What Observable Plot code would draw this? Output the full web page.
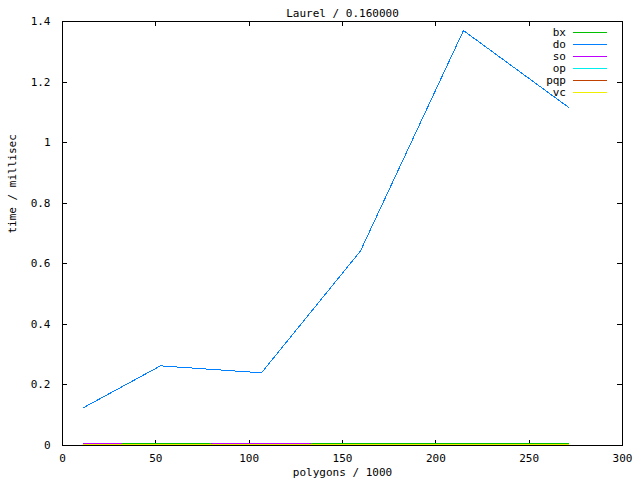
<!DOCTYPE html>
<html>
<head>
<meta charset="utf-8">
<script src="https://cdn.jsdelivr.net/npm/d3@7"></script>
<script src="https://cdn.jsdelivr.net/npm/@observablehq/plot@0.6"></script>
<style>
  body { margin: 0; background: #fff; }
</style>
</head>
<body>
<div id="wrap"></div>
<script>
const title = "Laurel / 0.160000";
const xLabel = "polygons / 1000";
const yLabel = "time / millisec";
const polygons = [11.25, 52.5, 106.6, 159.6, 214.8, 271];
const seriesNames = ["bx", "do", "so", "op", "pqp", "vc"];
const seriesColors = ["#00c000", "#0080ff", "#c000ff", "#00eeee", "#c04000", "#eeee00"];
const bx  = [0.0066, 0.0066, 0.0066, 0.0066, 0.0066, 0.0066];
const dO  = [0.125, 0.263, 0.240, 0.642, 1.370, 1.117];
const so  = [0.0066, 0.0033, 0.0066, 0.0033, 0.0033, 0.0033];
const op  = [0.0033, 0.0033, 0.0033, 0.0033, 0.0033, 0.0033];
const pqp = [0.0033, 0.0033, 0.0033, 0.0033, 0.0033, 0.0033];
const vc  = [0.0033, 0.0033, 0.0033, 0.0033, 0.0033, 0.0033];
const xTicks = [0, 50, 100, 150, 200, 250, 300];
const yTicks = [0, 0.2, 0.4, 0.6, 0.8, 1, 1.2, 1.4];

const values = [bx, dO, so, op, pqp, vc];
const rows = [];
seriesNames.forEach((s, i) => polygons.forEach((p, j) => rows.push({series: s, x: p, y: values[i][j]})));

const font = '"DejaVu Sans Mono", monospace';
const chart = Plot.plot({
  width: 640, height: 480,
  marginLeft: 62, marginRight: 18, marginTop: 21, marginBottom: 35,
  style: {fontFamily: font, fontSize: "11px", color: "#000", background: "#fff"},
  x: {domain: [0, 300], ticks: xTicks, label: null},
  y: {domain: [0, 1.4], ticks: yTicks, label: null, tickFormat: d => String(+d.toFixed(1))},
  color: {domain: seriesNames, range: seriesColors},
  marks: [
    Plot.axisX(xTicks, {tickSize: 0, tickPadding: 9, fontSize: 11}),
    Plot.axisY(yTicks, {tickSize: 0, tickPadding: 12, fontSize: 11, tickFormat: d => String(+d.toFixed(1))}),
    Plot.ruleX(xTicks.slice(1, -1), {insetTop: 419, stroke: "#000", shapeRendering: "crispEdges"}),
    Plot.ruleX(xTicks.slice(1, -1), {insetBottom: 419, stroke: "#000", shapeRendering: "crispEdges"}),
    Plot.ruleY(yTicks.slice(1, -1), {insetRight: 555, stroke: "#000", shapeRendering: "crispEdges"}),
    Plot.ruleY(yTicks.slice(1, -1), {insetLeft: 555, stroke: "#000", shapeRendering: "crispEdges"}),
    Plot.frame({stroke: "#000", shapeRendering: "crispEdges"}),
    ...seriesNames.map(s => Plot.line(rows.filter(r => r.series === s), {x: "x", y: "y", stroke: "series", strokeWidth: 1, shapeRendering: "crispEdges"})),
    Plot.text([title], {frameAnchor: "top", dy: -12, fontSize: 11}),
    Plot.text([xLabel], {frameAnchor: "bottom", dy: 30, fontSize: 11}),
    Plot.text([yLabel], {frameAnchor: "left", dx: -50, rotate: -90, fontSize: 11})
  ]
});
document.getElementById("wrap").appendChild(chart);

// key (top right, gnuplot style)
const svg = d3.select(chart.tagName.toLowerCase() === "svg" ? chart : chart.querySelector("svg"));
const key = svg.append("g").attr("font-family", font).attr("font-size", 11);
seriesNames.forEach((s, i) => {
  const yc = 32 + 12 * i;
  key.append("text").attr("x", 566).attr("y", yc).attr("dy", "0.35em")
    .attr("text-anchor", "end").attr("fill", "#000").text(s);
  key.append("line").attr("x1", 573).attr("x2", 607).attr("y1", yc + 0.5).attr("y2", yc + 0.5)
    .attr("stroke", seriesColors[i]).attr("stroke-width", 1).attr("shape-rendering", "crispEdges");
});
</script>
</body>
</html>
